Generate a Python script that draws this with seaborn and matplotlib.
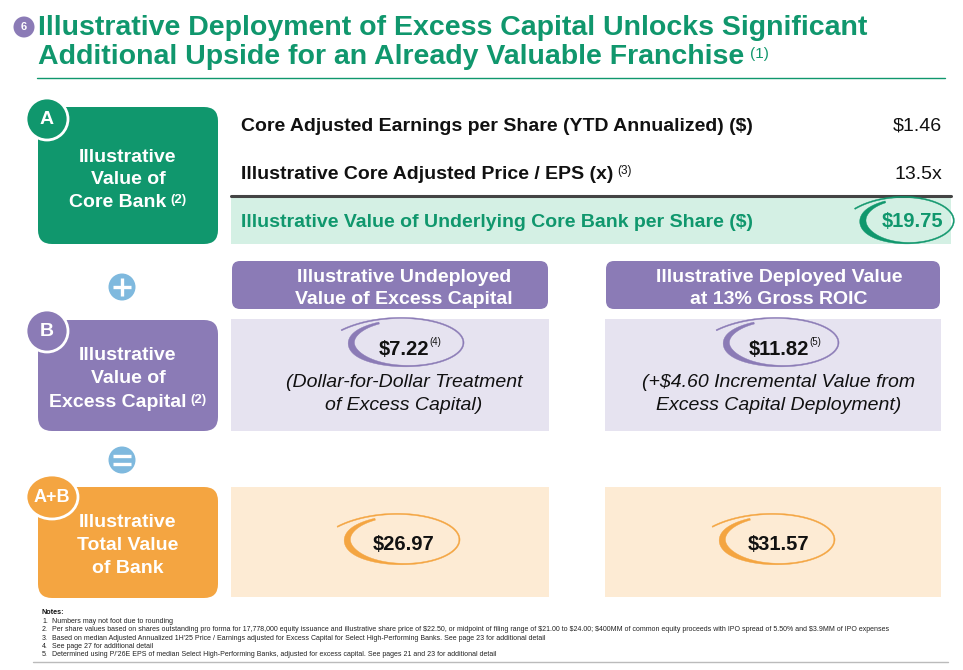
import numpy as np
import matplotlib
matplotlib.use("Agg")
import matplotlib.pyplot as plt
import seaborn as sns
from matplotlib.patches import FancyBboxPatch, Circle, Ellipse, Polygon, Rectangle

# ---------------- data ----------------
page_number = "6"
title_lines = ["Illustrative Deployment of Excess Capital Unlocks Significant",
               "Additional Upside for an Already Valuable Franchise"]
title_sup = "(1)"
core_labels = ["Core Adjusted Earnings per Share (YTD Annualized) ($)",
               "Illustrative Core Adjusted Price / EPS (x)"]
core_sups = [None, "(3)"]
core_values = ["$1.46", "13.5x"]
core_total_label = "Illustrative Value of Underlying Core Bank per Share ($)"
core_total_value = "$19.75"
section_badges = ["A", "B", "A+B"]
section_lines = [["Illustrative", "Value of", "Core Bank"],
                 ["Illustrative", "Value of", "Excess Capital"],
                 ["Illustrative", "Total Value", "of Bank"]]
section_sups = ["(2)", "(2)", None]
scenario_headers = [["Illustrative Undeployed", "Value of Excess Capital"],
                    ["Illustrative Deployed Value", "at 13% Gross ROIC"]]
excess_values = ["$7.22", "$11.82"]
excess_sups = ["(4)", "(5)"]
excess_notes = [["(Dollar-for-Dollar Treatment", "of Excess Capital)"],
                ["(+$4.60 Incremental Value from", "Excess Capital Deployment)"]]
total_values = ["$26.97", "$31.57"]
notes = ["Numbers may not foot due to rounding",
         "Per share values based on shares outstanding pro forma for 17,778,000 equity issuance and illustrative share price of $22.50, or midpoint of filing range of $21.00 to $24.00; $400MM of common equity proceeds with IPO spread of 5.50% and $3.9MM of IPO expenses",
         "Based on median Adjusted Annualized 1H'25 Price / Earnings adjusted for Excess Capital for Select High-Performing Banks. See page 23 for additional detail",
         "See page 27 for additional detail",
         "Determined using P/'26E EPS of median Select High-Performing Banks, adjusted for excess capital. See pages 21 and 23 for additional detail"]

# ---------------- style ----------------
sns.set_theme(style="white")
plt.rcParams['font.family'] = ['Liberation Sans', 'DejaVu Sans']

GREEN = '#10976D'
LGREEN = '#D4F0E4'
PURPLE = '#8B7BB6'
LAV = '#E6E3F0'
ORANGE = '#F4A541'
PEACH = '#FDEBD4'
BLUE = '#7FB9DE'
DARK = '#111111'

fig = plt.figure(figsize=(9.63, 6.70), dpi=100)
ax = fig.add_axes([0, 0, 1, 1])
ax.set_xlim(0, 963)
ax.set_ylim(670, 0)
ax.axis('off')
R = fig.canvas.get_renderer()


def put(x, y, s, size, weight='normal', style='normal', color=DARK, ha='left',
        sup=None, sup_size=8, sup_rise=5, sup_weight='normal', gap=2, z=4):
    t = ax.text(x, y, s, fontsize=size, fontweight=weight, fontstyle=style, color=color,
                ha='left', va='baseline', parse_math=False, zorder=z)
    w = t.get_window_extent(R).width
    ts = None
    sw = 0
    if sup:
        ts = ax.text(x, y - sup_rise, sup, fontsize=sup_size, fontweight=sup_weight,
                     color=color, ha='left', va='baseline', parse_math=False, zorder=z)
        sw = ts.get_window_extent(R).width + gap
    total = w + sw
    if ha == 'center':
        x0 = x - total / 2
    elif ha == 'right':
        x0 = x - total
    else:
        x0 = x
    t.set_x(x0)
    if ts is not None:
        ts.set_x(x0 + w + gap)
    return t


def rbox(x0, y0, x1, y1, color, r=12, z=1):
    ax.add_patch(FancyBboxPatch((x0, y0), x1 - x0, y1 - y0,
                                boxstyle=f"round,pad=0,rounding_size={r}",
                                fc=color, ec='none', zorder=z))


def rect(x0, y0, x1, y1, color, z=1):
    ax.add_patch(Rectangle((x0, y0), x1 - x0, y1 - y0, fc=color, ec='none', zorder=z))


def swoosh(cx, cy, a, b, color):
    deg = np.linspace(155, -240, 600)
    th = np.radians(deg)
    s = 0.96 + 0.29 * np.exp(-(155 - deg) / 50.0)
    x = cx + a * s * np.cos(th)
    y = cy - b * s * np.sin(th)
    w = 1.2 + 5.2 * np.exp(-((deg + 172) / 48.0) ** 2)
    dx = np.gradient(x)
    dy = np.gradient(y)
    n = np.hypot(dx, dy)
    nx, ny = -dy / n, dx / n
    outer = np.column_stack([x + nx * w / 2, y + ny * w / 2])
    inner = np.column_stack([x - nx * w / 2, y - ny * w / 2])
    poly = np.vstack([outer, inner[::-1]])
    ax.add_patch(Polygon(poly, closed=True, fc=color, ec=color, lw=0.3, zorder=5))


# ---------------- title ----------------
ax.add_patch(Circle((24, 27), 10.5, fc=PURPLE, ec='none', zorder=3))
ax.text(24, 27.5, page_number, color='white', fontsize=8, fontweight='bold',
        ha='center', va='center', zorder=4)
put(38, 35, title_lines[0], 20.5, weight='bold', color=GREEN)
put(38, 64, title_lines[1], 20.5, weight='bold', color=GREEN,
    sup=title_sup, sup_size=11, sup_rise=6, gap=6)
ax.plot([37, 945], [78, 78], color=GREEN, lw=1.0)

# ---------------- left section boxes ----------------
sec_colors = [GREEN, PURPLE, ORANGE]
sec_y = [(107, 244), (320, 431), (487, 598)]
sec_base = [(162, 184, 207), (360, 383, 407), (527, 550, 573)]
badge_xy = [(47, 119), (47, 331), (52, 497)]
for i in range(3):
    y0, y1 = sec_y[i]
    rbox(38, y0, 218, y1, sec_colors[i], r=14, z=2)
    bx, by = badge_xy[i]
    if i < 2:
        ax.add_patch(Circle((bx, by), 21, fc=sec_colors[i], ec='white', lw=2, zorder=3))
    else:
        ax.add_patch(Ellipse((bx, by), 52, 44, fc=sec_colors[i], ec='white', lw=2, zorder=3))
    ax.text(bx, by + 1, section_badges[i], color='white', fontsize=14 if i < 2 else 13,
            fontweight='bold', ha='center', va='center', zorder=4)
    for k, line in enumerate(section_lines[i]):
        sup = section_sups[i] if k == 2 else None
        put(128, sec_base[i][k], line, 14, weight='bold', color='white', ha='center',
            sup=sup, sup_size=9.5, sup_rise=4, sup_weight='bold', gap=4)

# plus / equals icons
ax.add_patch(Circle((122, 287), 13.5, fc=BLUE, ec='none', zorder=3))
ax.add_patch(Circle((122, 460), 13.5, fc=BLUE, ec='none', zorder=3))
ax.plot([113, 131], [287, 287], color='white', lw=2.4, zorder=4, solid_capstyle='butt')
ax.plot([122, 122], [278, 296], color='white', lw=2.4, zorder=4, solid_capstyle='butt')
ax.plot([113, 131], [456, 456], color='white', lw=2.4, zorder=4, solid_capstyle='butt')
ax.plot([113, 131], [464, 464], color='white', lw=2.4, zorder=4, solid_capstyle='butt')

# ---------------- core bank rows ----------------
row_base = [131, 179]
for lbl, sup, val, yy in zip(core_labels, core_sups, core_values, row_base):
    put(241, yy, lbl, 14, weight='bold', sup=sup, sup_size=8.5, sup_rise=5, gap=4)
    put(942, yy, val, 14, ha='right')
rect(231, 197, 951, 244, LGREEN, z=1)
ax.plot([231, 951], [196, 196], color='#444444', lw=2.2, zorder=2)
put(241, 227, core_total_label, 14, weight='bold', color=GREEN)
put(912, 227, core_total_value, 14.5, weight='bold', color=GREEN, ha='center', z=6)
swoosh(908, 221, 47, 23, GREEN)

# ---------------- scenario columns ----------------
col_x = [(231, 549), (605, 941)]
col_cx = [404, 779]
for j in range(2):
    x0, x1 = col_x[j]
    rbox(x0 + 1, 261, x1 - 1, 309, PURPLE, r=8, z=2)
    for k, line in enumerate(scenario_headers[j]):
        put(col_cx[j], [282, 304][k], line, 14, weight='bold', color='white', ha='center')
    rect(x0, 319, x1, 431, LAV, z=1)
    rect(x0, 487, x1, 597, PEACH, z=1)

# excess capital values
for j in range(2):
    put(col_cx[j] + 6, 355, excess_values[j], 14.5, weight='bold', ha='center',
        sup=excess_sups[j], sup_size=7, sup_rise=10, gap=0, z=6)
    swoosh(col_cx[j] + 3, 343, 58, 24, PURPLE)
    for k, line in enumerate(excess_notes[j]):
        put(col_cx[j], [387, 410][k], line, 14, style='italic', ha='center')

# total values
for j in range(2):
    put(col_cx[j], 550, total_values[j], 14.5, weight='bold', ha='center', z=6)
    swoosh(col_cx[j] - 1, 540, 58, 25, ORANGE)

# ---------------- notes ----------------
ax.text(41, 613, "Notes:", color=DARK, fontsize=5.2, fontweight='bold', ha='left', va='center')
for k, nt in enumerate(notes):
    yy = 621.7 + k * 8.2
    ax.text(42, yy, f"{k + 1}.", color='#222222', fontsize=5.0, ha='left', va='center')
    ax.text(52, yy, nt, color='#222222', fontsize=5.0, ha='left', va='center', parse_math=False)
ax.plot([33, 948], [662, 662], color='#BBBBBB', lw=1.0)

fig.savefig("out.png", dpi=100)
